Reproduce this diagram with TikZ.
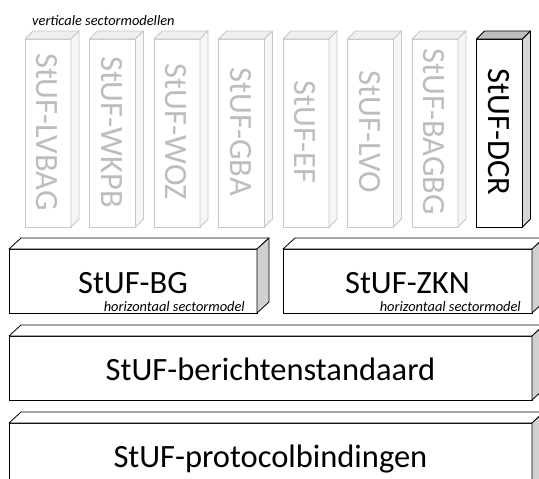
\documentclass[tikz,border=0pt]{standalone}
\usepackage{fontspec}
\setmainfont{Carlito}
\definecolor{barline}{HTML}{C8C8C8}
\definecolor{bartext}{HTML}{BDBDBD}
\definecolor{bartop}{HTML}{EFEFEF}
\definecolor{barside}{HTML}{F6F6F6}
\definecolor{darktop}{HTML}{BEBEBE}
\definecolor{darkside}{HTML}{D6D6D6}
\definecolor{boxside}{HTML}{D0D0D0}
\newcommand{\cuboid}[8]{% name, cx, cy, w, h, dx, dy, style prefix
  \node[#8front, minimum width=#4, minimum height=#5] (#1) at (#2,#3) {};
  \draw[#8top] (#1.north west) -- ++(#6,-#7) -- ([shift={(#6,-#7)}]#1.north east) -- (#1.north east) -- cycle;
  \draw[#8side] (#1.north east) -- ++(#6,-#7) -- ([shift={(#6,-#7)}]#1.south east) -- (#1.south east) -- cycle;
}
\tikzset{
  lfront/.style={draw=barline, fill=white, line width=0.8pt, inner sep=0pt, outer sep=0pt},
  ltop/.style={draw=barline, fill=bartop, line width=0.8pt, line join=round},
  lside/.style={draw=barline, fill=barside, line width=0.8pt, line join=round},
  dfront/.style={draw=black, fill=white, line width=0.8pt, inner sep=0pt, outer sep=0pt},
  dtop/.style={draw=black, fill=darktop, line width=0.8pt, line join=round},
  dside/.style={draw=black, fill=darkside, line width=0.8pt, line join=round},
  hfront/.style={draw=black, fill=white, line width=0.8pt, inner sep=0pt, outer sep=0pt},
  htop/.style={draw=black, fill=white, line width=0.8pt, line join=round},
  hside/.style={draw=black, fill=boxside, line width=0.8pt, line join=round},
  bigtext/.style={font=\fontsize{32.5}{39}\selectfont, inner sep=0pt},
  smalltext/.style={font=\fontsize{14.4}{17}\selectfont\itshape, inner sep=0pt},
  vtext/.style={bigtext, rotate=-90, anchor=base},
}
\begin{document}
\begin{tikzpicture}[x=1pt, y=-1pt]
\useasboundingbox (0,0) rectangle (539,479);
\clip (0,0) rectangle (539,479);
\fill[white] (0,0) rectangle (539,479);

\node[smalltext, anchor=base west] (vlabel) at (32,25) {verticale sectormodellen};

% vertical bars
\cuboid{b1}{48}{133}{46}{188}{8}{8}{l}
\cuboid{b2}{112.5}{133}{46}{188}{8}{8}{l}
\cuboid{b3}{177}{133}{46}{188}{8}{8}{l}
\cuboid{b4}{241.5}{133}{46}{188}{8}{8}{l}
\cuboid{b5}{306}{133}{46}{188}{8}{8}{l}
\cuboid{b6}{370.5}{133}{46}{188}{8}{8}{l}
\cuboid{b7}{435}{133}{46}{188}{8}{8}{l}
\cuboid{b8}{499.5}{133}{46}{188}{8}{8}{d}

\node[vtext, text=bartext] (t1) at (36.5,132) {StUF-LVBAG};
\node[vtext, text=bartext] (t2) at (101,132) {StUF-WKPB};
\node[vtext, text=bartext] (t3) at (165.5,132) {StUF-WOZ};
\node[vtext, text=bartext] (t4) at (230,132) {StUF-GBA};
\node[vtext, text=bartext] (t5) at (294.5,132) {StUF-EF};
\node[vtext, text=bartext] (t6) at (359,132) {StUF-LVO};
\node[vtext, text=bartext] (t7) at (423.5,132) {StUF-BAGBG};
\node[vtext, text=black] (t8) at (488,132) {StUF-DCR};

% horizontal boxes
\cuboid{bg}{133}{281}{248}{64}{12}{11}{h}
\cuboid{zkn}{407.5}{281}{249}{64}{12}{11}{h}
\cuboid{ber}{270.5}{368}{523}{64}{12}{11}{h}
\cuboid{prot}{270.5}{455}{523}{64}{12}{11}{h}

\node[bigtext, anchor=base] (bgl) at (133,293) {StUF-BG};
\node[smalltext, anchor=base east] (bgs) at (245,311) {horizontaal sectormodel};
\node[bigtext, anchor=base] (zknl) at (407.5,293) {StUF-ZKN};
\node[smalltext, anchor=base east] (zkns) at (521,311) {horizontaal sectormodel};
\node[bigtext, anchor=base] (berl) at (270.5,380) {StUF-berichtenstandaard};
\node[bigtext, anchor=base] (protl) at (270.5,467) {StUF-protocolbindingen};
\end{tikzpicture}
\end{document}
